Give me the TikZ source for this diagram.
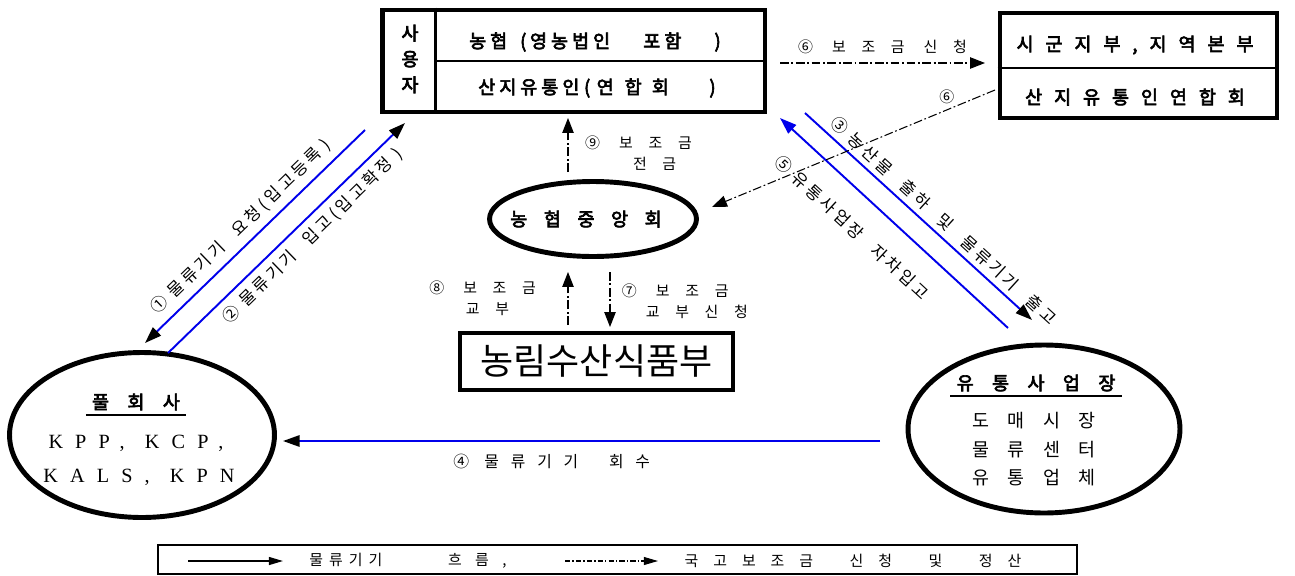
\documentclass[tikz,border=0pt]{standalone}
\usepackage{fontspec}
\setmainfont{Noto Sans CJK KR}
\newfontfamily\krA[LetterSpace=20]{Noto Sans CJK KR}
\newfontfamily\krAw[LetterSpace=75]{Noto Sans CJK KR}
\newfontfamily\krB[LetterSpace=105]{Noto Sans CJK KR}
\newfontfamily\krC[LetterSpace=98]{Noto Sans CJK KR}
\newfontfamily\krD[LetterSpace=40]{Noto Sans CJK KR}
\newfontfamily\krDw[LetterSpace=100]{Noto Sans CJK KR}
\newfontfamily\krbA[FakeBold=3.5,LetterSpace=22]{Noto Sans CJK KR}
\newfontfamily\krbB[FakeBold=3.5,LetterSpace=65]{Noto Sans CJK KR}
\newfontfamily\krbC[FakeBold=3.5,LetterSpace=100]{Noto Sans CJK KR}
\newfontfamily\krbE[FakeBold=3.5,LetterSpace=90]{Noto Sans CJK KR}
\newfontfamily\latsp[LetterSpace=60]{Liberation Serif}
\usetikzlibrary{arrows.meta, shapes.geometric, calc}
\definecolor{flowblue}{RGB}{0,0,235}

\tikzset{
  flow/.style={draw=flowblue, line width=1.1pt, -{Triangle[length=9.5pt,width=6.5pt,black]}},
  flowback/.style={draw=flowblue, line width=1.1pt, -{Triangle[length=9.5pt,width=6.5pt]}},
  fund/.style={draw=black, line width=0.6pt, dash pattern=on 5pt off 1.5pt on 1pt off 1.5pt, -{Triangle[length=8.5pt,width=6.5pt]}},
  lbl/.style={font=\krA\fontsize{9.5}{11}\selectfont, inner sep=1pt},
  fundlbl/.style={font=\krB\fontsize{8.5}{12}\selectfont, inner sep=1pt},
  orgbox/.style={draw, line width=2.8pt, inner sep=0pt},
  usertext/.style={font=\krbA\fontsize{10.5}{14.7}\selectfont},
  regtext/.style={font=\krbB\fontsize{10.5}{12}\selectfont},
  hub/.style={ellipse, draw, line width=2.8pt, inner sep=0pt},
  hubtitle/.style={font=\krbC\fontsize{10.5}{12}\selectfont},
  hubtext/.style={font=\krC\fontsize{10.5}{12}\selectfont},
}

\begin{document}
\begin{tikzpicture}[x=0.02cm, y=-0.02cm]
  \useasboundingbox (0,0) rectangle (1295,575);

  % users
  \node[orgbox, minimum width=7.66cm, minimum height=2.04cm] (user) at (573.5,61) {};
  \draw[line width=1.3pt] ($(user.north west)+(56,0)$) -- ($(user.south west)+(56,0)$);
  \draw[line width=1.3pt] ($(user.west)+(56,0)$) -- (user.east);
  \node[usertext, align=center] (userlbl) at (410,59) {사\\용\\자};
  \node[usertext] (nh) at (595,42) {농협\hspace{0.7em}(\hspace{0.2em}영농법인\hspace{1.8em}포함\hspace{1.8em})};
  \node[usertext] (sj) at (597,88) {산지유통인\hspace{0.25em}(\hspace{0.35em}연\hspace{0.6em}합\hspace{0.55em}회\hspace{2.2em})};

  % regional offices
  \node[orgbox, minimum width=5.54cm, minimum height=2.1cm] (region) at (1138.5,65.5) {};
  \draw[line width=1.3pt] ($(region.west)+(0,2.5)$) -- ($(region.east)+(0,2.5)$);
  \node[regtext] (sg) at (1135,45) {시군지부,지역본부};
  \node[regtext] (sy) at (1135,97) {산지유통인연합회};

  % NH central and ministry
  \node[hub, minimum width=4.14cm, minimum height=1.5cm] (central) at (593,219) {};
  \node[font=\krbE\fontsize{10.5}{12}\selectfont] (centraltext) at (586,219) {농협중앙회};
  \node[draw, line width=1.8pt, minimum width=5.46cm, minimum height=1.14cm, font=\fontsize{20.5}{24}\selectfont] (ministry) at (596.5,361.5) {농림수산식품부};

  % pool company
  \node[hub, minimum width=5.3cm, minimum height=3.3cm] (pool) at (142,435) {};
  \node[hubtitle] (pooltitle) at (136,402) {풀회사};
  \draw[line width=1pt] ([yshift=1pt]pooltitle.south west) -- ([yshift=1pt]pooltitle.south east);
  \node[font=\latsp\fontsize{11.5}{13}\selectfont] (poolA) at (136,443) {KPP,\quad KCP,};
  \node[font=\latsp\fontsize{11.5}{13}\selectfont] (poolB) at (139,477) {KALS,\quad KPN};

  % distribution sites
  \node[hub, minimum width=5.44cm, minimum height=3.36cm] (dist) at (1044,429) {};
  \node[hubtitle] (disttitle) at (1036,383) {유통사업장};
  \draw[line width=1pt] ([yshift=1pt]disttitle.south west) -- ([yshift=1pt]disttitle.south east);
  \node[hubtext] (distA) at (1034,421) {도매시장};
  \node[hubtext] (distB) at (1034,450) {물류센터};
  \node[hubtext] (distC) at (1034,478) {유통업체};

  % connector ends
  \coordinate (r1s) at (365,130); \coordinate (r1e) at (145,343);
  \coordinate (r2s) at (168,353); \coordinate (r2e) at (405,123);
  \coordinate (r3s) at (805,113); \coordinate (r3e) at (1032,320);
  \coordinate (r4s) at (880,441); \coordinate (r4e) at (283,441);
  \coordinate (r5s) at (1008,328); \coordinate (r5e) at (780,118);
  \coordinate (s6as) at (780,63); \coordinate (s6ae) at (985,63);
  \coordinate (s6bs) at (995,90); \coordinate (s6be) at (712,207);
  \coordinate (s7s) at (610,272); \coordinate (s7e) at (610,327);
  \coordinate (s8s) at (568,325); \coordinate (s8e) at (568,272);
  \coordinate (s9s) at (568,172); \coordinate (s9e) at (568,118);

  % logistics flow
  \draw[flow] (r1s) -- node[lbl, sloped, above=3pt, pos=0.51] {① 물류기기\quad 요청(입고등록 )} (r1e);
  \draw[flow] (r2s) -- node[lbl, sloped, below=3pt, pos=0.56] {② 물류기기\quad 입고(입고확정 )} (r2e);
  \draw[flow] (r3s) -- node[lbl, sloped, above=2pt, pos=0.57] {③ 농산물\quad 출하\quad 및\quad 물류기기\quad 출고} (r3e);
  \draw[flow] (r4s) -- node[lbl, font=\krAw\fontsize{9}{11}\selectfont, below=6pt, pos=0.55] {④ 물류기기\ \ 회수} (r4e);
  \draw[flowback] (r5s) -- node[lbl, sloped, below=12pt, pos=0.59] {⑤ 유통사업장\quad 자차입고} (r5e);

  % subsidy flow
  \draw[fund] (s6as) -- node[fundlbl, above=4pt] {⑥ 보조금 신청} (s6ae);
  \draw[fund] (s6bs) -- node[fundlbl, above=2pt, pos=0.17] {⑥} (s6be);
  \draw[fund] (s7s) -- node[fundlbl, right=5.5pt, align=left, pos=0.53] {⑦ 보조금\\\hspace*{1.6em}교부신청} (s7e);
  \draw[fund] (s8s) -- node[fundlbl, left=17pt, align=left] {⑧ 보조금\\\hspace*{2.45em}교부} (s8e);
  \draw[fund] (s9s) -- node[fundlbl, right=8.5pt, align=left, pos=0.35] {⑨ 보조금\\\hspace*{3.2em}전금} (s9e);

  % legend
  \node[draw, line width=0.8pt, minimum width=18.38cm, minimum height=0.58cm] (legend) at (617.5,559.5) {};
  \coordinate (lg1s) at (188,561); \coordinate (lg1e) at (283,561);
  \coordinate (lg2s) at (565,561); \coordinate (lg2e) at (658,561);
  \draw[line width=0.8pt, -{Triangle[length=8pt,width=4.5pt]}] (lg1s) -- (lg1e);
  \node[font=\krD\fontsize{8.5}{10}\selectfont] (leg1) at (408,561) {물류기기\hspace{4.4em}흐\hspace{0.9em}름\hspace{0.9em},};
  \draw[line width=0.6pt, dash pattern=on 3pt off 1.2pt on 0.8pt off 1.2pt, -{Triangle[length=8pt,width=4.5pt]}] (lg2s) -- (lg2e);
  \node[font=\krDw\fontsize{8.5}{10}\selectfont] (leg2) at (853,561) {국고보조금\ \ 신청\ \ 및\ \ 정산};
\end{tikzpicture}
\end{document}
